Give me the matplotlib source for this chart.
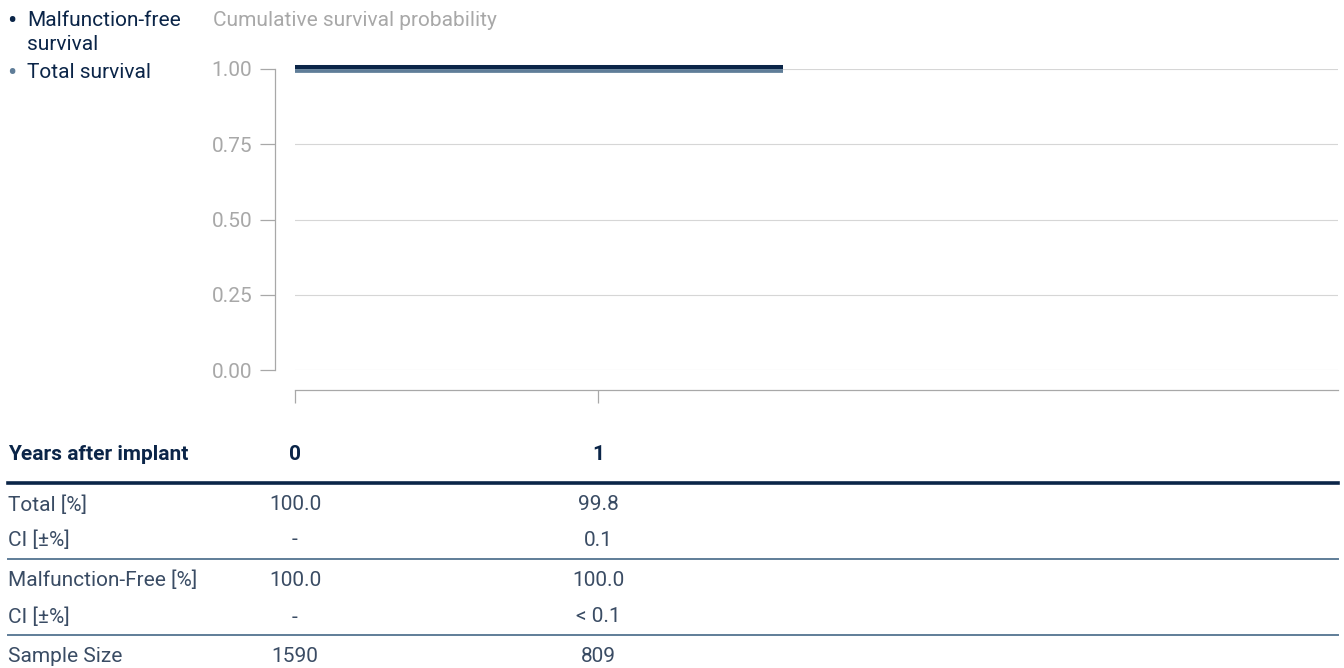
import numpy as np
import matplotlib
matplotlib.use('Agg')
import matplotlib.pyplot as plt
import matplotlib.transforms as mtransforms

plt.rcParams['font.family'] = 'Roboto'

# data
years = [0, 1]
total_pct = [100.0, 99.8]
total_ci = ['-', '0.1']
mf_pct = [100.0, 100.0]
mf_ci = ['-', '< 0.1']
sample_size = [1590, 809]
last_followup = 1.61  # years, end of the curves

yticks = [0.0, 0.25, 0.5, 0.75, 1.0]

navy = '#0b2548'
steel = '#5f7d98'
rowtxt = '#3a4c64'
grey = '#a8a8a8'
fs = 15

W, H = 1344, 668
fig = plt.figure(figsize=(W / 100, H / 100), dpi=100)


def fx(px):
    return px / W


def fy(py):
    return 1 - py / H


ax = fig.add_axes([fx(295), fy(370), (1338 - 295) / W, (370 - 69) / H])
ax.set_xlim(0, (1338 - 295) / 303)
ax.set_ylim(0, 1)

# survival curves (small pixel offset so both lines stay visible)
up = mtransforms.offset_copy(ax.transData, fig=fig, x=0, y=2, units='dots')
down = mtransforms.offset_copy(ax.transData, fig=fig, x=0, y=-1.5, units='dots')
tx = years + [last_followup]
ax.plot(tx, [v / 100 for v in total_pct] + [total_pct[-1] / 100],
        drawstyle='steps-post', color=steel, lw=2.7, solid_capstyle='butt',
        transform=down, clip_on=False, zorder=3)
ax.plot(tx, [v / 100 for v in mf_pct] + [mf_pct[-1] / 100],
        drawstyle='steps-post', color=navy, lw=2.9, solid_capstyle='butt',
        transform=up, clip_on=False, zorder=4)

ax.set_yticks(yticks)
ax.set_yticklabels(['%.2f' % t for t in yticks])
ax.set_xticks(years)
ax.set_xticklabels([])
ax.grid(axis='y', color='#d6d6d6', lw=0.8)
ax.set_axisbelow(True)

for s in ['top', 'right']:
    ax.spines[s].set_visible(False)
ax.spines['left'].set_position(('outward', 14.4))
ax.spines['left'].set_bounds(0, 1)
ax.spines['bottom'].set_position(('outward', 14.5))
for s in ['left', 'bottom']:
    ax.spines[s].set_color(grey)
    ax.spines[s].set_linewidth(0.9)
ax.tick_params(axis='y', direction='out', length=10.8, width=0.9,
               color=grey, labelcolor=grey, labelsize=fs, pad=5.5)
ax.tick_params(axis='x', direction='out', length=9.4, width=0.9,
               color=grey)

fig.text(fx(213), fy(21), 'Cumulative survival probability', color=grey,
         fontsize=fs, va='center', ha='left')

# legend
fig.text(fx(7), fy(22), '•', color=navy, fontsize=20, va='center')
fig.text(fx(27), fy(21), 'Malfunction-free', color=navy, fontsize=fs, va='center')
fig.text(fx(27), fy(44), 'survival', color=navy, fontsize=fs, va='center')
fig.text(fx(7), fy(73), '•', color=steel, fontsize=20, va='center')
fig.text(fx(27), fy(72), 'Total survival', color=navy, fontsize=fs, va='center')

# table under the chart
col = mtransforms.blended_transform_factory(ax.transData, fig.transFigure)

fig.text(fx(8), fy(455), 'Years after implant', color=navy, fontsize=fs,
         fontweight='bold', va='center')
for yr in years:
    ax.text(yr, fy(455), str(yr), transform=col, color=navy, fontsize=fs,
            fontweight='bold', ha='center', va='center')

rows = [
    ('Total [%]', ['%.1f' % v for v in total_pct], 505),
    ('CI [±%]', total_ci, 540),
    ('Malfunction-Free [%]', ['%.1f' % v for v in mf_pct], 580),
    ('CI [±%]', mf_ci, 617),
    ('Sample Size', [str(v) for v in sample_size], 656),
]
for label, vals, py in rows:
    fig.text(fx(8), fy(py), label, color=rowtxt, fontsize=fs, va='center')
    for yr, v in zip(years, vals):
        ax.text(yr, fy(py), v, transform=col, color=rowtxt, fontsize=fs,
                ha='center', va='center')

for py, c, lw in [(483, navy, 2.6), (559, steel, 1.4), (635, steel, 1.4)]:
    fig.add_artist(plt.Line2D([fx(8), fx(1338)], [fy(py), fy(py)],
                              color=c, lw=lw, transform=fig.transFigure))

plt.savefig('out.png', dpi=100)
